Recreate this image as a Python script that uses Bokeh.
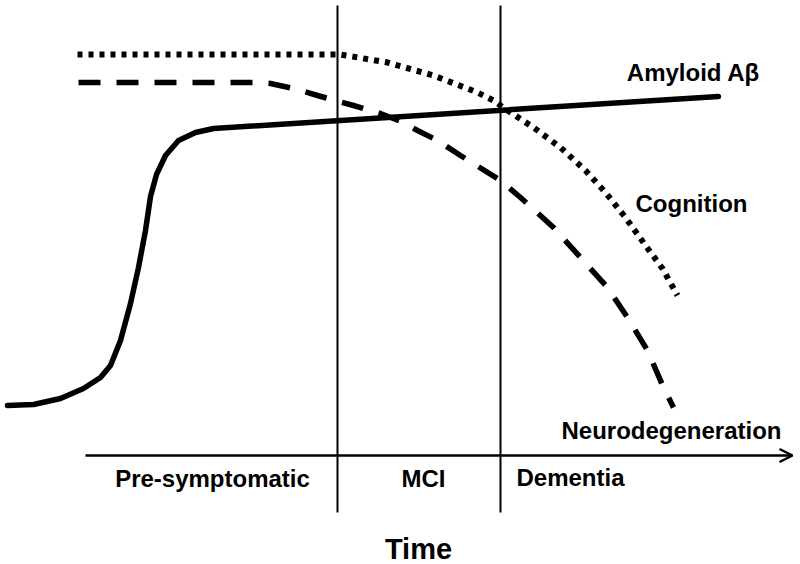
from bokeh.plotting import figure
from bokeh.models import Range1d, Arrow, OpenHead
from bokeh.core.properties import value
from bokeh.embed import file_html
from bokeh.resources import INLINE

# Curves (x: time position, y: level position, screen units, y grows downward)
amyloid_x = [7, 33, 60, 83, 100, 110, 120, 130, 138, 145, 150, 156, 165, 178, 195, 213, 718]
amyloid_y = [405, 404, 398, 388, 377, 365, 340, 303, 267, 230, 196, 174, 155, 140, 132, 128, 96]

cognition_x = [77, 335, 340, 387, 433, 477, 493, 507, 533, 560, 585, 605, 625, 645, 662, 677]
cognition_y = [54, 54, 54, 62, 75, 92, 100, 110, 127, 147, 170, 192, 217, 245, 268, 295]

neuro_x = [78, 255, 270, 293, 317, 353, 380, 403, 417, 437, 460, 500, 520, 553, 580, 607, 627, 647, 663, 673]
neuro_y = [82, 82, 83, 88, 95, 105, 113, 122, 130, 140, 155, 180, 197, 227, 257, 287, 317, 350, 387, 407]

stage_bounds = [337, 500]
stage_top = 5
stage_bottom = 512
axis_y = 455
axis_x0 = 85
axis_x1 = 792

stage_labels = ["Pre-symptomatic", "MCI", "Dementia"]
stage_label_x = [212, 423, 570]
stage_label_y = [478, 478, 477]

curve_labels = ["Amyloid A\u03b2", "Cognition", "Neurodegeneration"]
curve_label_x = [693, 691, 671]
curve_label_y = [72, 203, 430]

p = figure(width=800, height=564, output_backend="svg", toolbar_location=None,
           x_range=Range1d(0, 800), y_range=Range1d(564, 0),
           min_border=0, outline_line_color=None)
p.axis.visible = False
p.grid.visible = False

for xb in stage_bounds:
    p.line([xb, xb], [stage_top, stage_bottom], line_color="black", line_width=2)

p.add_layout(Arrow(end=OpenHead(size=13, line_width=2.5, line_color="black"),
                   x_start=axis_x0, y_start=axis_y, x_end=axis_x1, y_end=axis_y,
                   line_width=2.5, line_color="black"))

p.line(amyloid_x, amyloid_y, line_color="black", line_width=5.5, line_join="round", line_cap="round")
p.line(cognition_x, cognition_y, line_color="black", line_width=6, line_dash="5 6", line_cap="butt")
p.line(neuro_x, neuro_y, line_color="black", line_width=5.5, line_dash="22 16", line_cap="butt")

font = value("Liberation Sans")
p.text(stage_label_x, stage_label_y, text=stage_labels, text_font=font, text_font_style="bold",
       text_font_size="24px", text_align="center", text_baseline="middle", text_color="black")
p.text(curve_label_x, curve_label_y, text=curve_labels, text_font=font, text_font_style="bold",
       text_font_size="24px", text_align="center", text_baseline="middle", text_color="black")
p.text([418], [548], text=["Time"], text_font=font, text_font_style="bold",
       text_font_size="29px", text_align="center", text_baseline="middle", text_color="black")

open("out.html", "w").write(file_html(p, INLINE))
